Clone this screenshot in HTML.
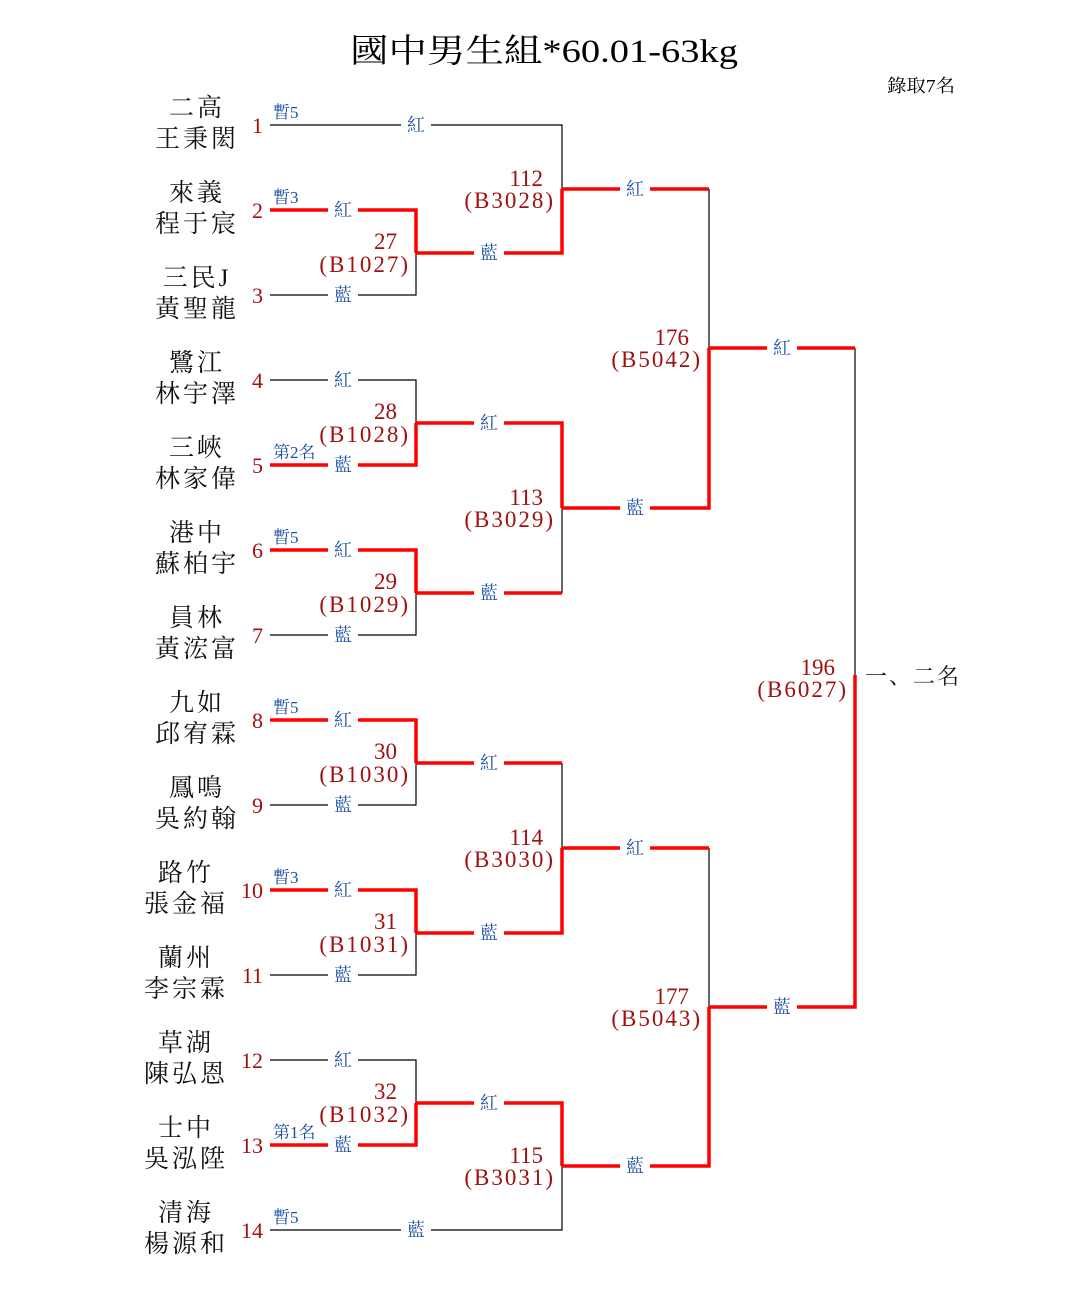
<!DOCTYPE html>
<html><head><meta charset="utf-8"><style>
html,body{margin:0;padding:0;background:#fff;}
svg{display:block;}
text{font-family:"Liberation Serif","Noto Serif CJK SC",serif;}
.nm{font-size:25px;fill:#111;text-anchor:middle;letter-spacing:3px;}
.pn{font-size:22px;fill:#a01010;text-anchor:end;}
.lb{font-size:18px;fill:#1a4fa0;text-anchor:middle;}
.tg{font-size:17px;fill:#1a4fa0;}
.mn{font-size:23px;fill:#a01010;text-anchor:end;}
.mb{font-size:23px;fill:#a01010;text-anchor:end;letter-spacing:2px;}
.k{stroke:#000;stroke-width:1.2;fill:none;}
.r{stroke:#f00;stroke-width:3.5;fill:none;}
</style></head><body>
<svg width="1085" height="1315" viewBox="0 0 1085 1315" xmlns="http://www.w3.org/2000/svg">
<text x="350" y="62" font-size="33" textLength="388" lengthAdjust="spacingAndGlyphs" fill="#000">國中男生組*60.01-63kg</text>
<text x="887" y="92" font-size="18" fill="#000" textLength="68" lengthAdjust="spacingAndGlyphs">錄取7名</text>

<g class="nm">
<text x="197" y="116">二高</text><text x="197" y="147">王秉閎</text>
<text x="197" y="201">來義</text><text x="197" y="232">程于宸</text>
<text x="197" y="286">三民J</text><text x="197" y="317">黃聖龍</text>
<text x="197" y="371">鷺江</text><text x="197" y="402">林宇澤</text>
<text x="197" y="456">三峽</text><text x="197" y="487">林家偉</text>
<text x="197" y="541">港中</text><text x="197" y="572">蘇柏宇</text>
<text x="197" y="626">員林</text><text x="197" y="657">黃浤富</text>
<text x="197" y="711">九如</text><text x="197" y="742">邱宥霖</text>
<text x="197" y="796">鳳鳴</text><text x="197" y="827">吳約翰</text>
<text x="186" y="881">路竹</text><text x="186" y="912">張金福</text>
<text x="186" y="966">蘭州</text><text x="186" y="997">李宗霖</text>
<text x="186" y="1051">草湖</text><text x="186" y="1082">陳弘恩</text>
<text x="186" y="1136">士中</text><text x="186" y="1167">吳泓陞</text>
<text x="186" y="1221">清海</text><text x="186" y="1252">楊源和</text>
</g>
<g class="pn">
<text x="263" y="133">1</text><text x="263" y="218">2</text><text x="263" y="303">3</text>
<text x="263" y="388">4</text><text x="263" y="473">5</text><text x="263" y="558">6</text>
<text x="263" y="643">7</text><text x="263" y="728">8</text><text x="263" y="813">9</text>
<text x="263" y="898">10</text><text x="263" y="983">11</text><text x="263" y="1068">12</text>
<text x="263" y="1153">13</text><text x="263" y="1238">14</text>
</g>

<path class="k" d="M270 125H562V189"/>
<path class="r" d="M270 210H416V253"/>
<path class="k" d="M270 295H416V253"/>
<path class="k" d="M270 380H416V423"/>
<path class="r" d="M270 465H416V423"/>
<path class="r" d="M270 550H416V593"/>
<path class="k" d="M270 635H416V593"/>
<path class="r" d="M270 720H416V763"/>
<path class="k" d="M270 805H416V763"/>
<path class="r" d="M270 890H416V933"/>
<path class="k" d="M270 975H416V933"/>
<path class="k" d="M270 1060H416V1103"/>
<path class="r" d="M270 1145H416V1103"/>
<path class="k" d="M270 1230H562V1166"/>

<path class="k" d="M562 508V593"/>
<path class="k" d="M562 763V848"/>
<path class="r" d="M416 253H562V189"/>
<path class="r" d="M416 423H562V508"/>
<path class="r" d="M416 593H562"/>
<path class="r" d="M416 763H562"/>
<path class="r" d="M416 933H562V848"/>
<path class="r" d="M416 1103H562V1166"/>

<path class="k" d="M709 189V348"/>
<path class="k" d="M709 848V1007"/>
<path class="r" d="M562 189H709"/>
<path class="r" d="M562 508H709V348"/>
<path class="r" d="M562 848H709"/>
<path class="r" d="M562 1166H709V1007"/>

<path class="k" d="M855 348V675"/>
<path class="r" d="M709 348H855"/>
<path class="r" d="M709 1007H855V675"/>

<g fill="#fff">
<rect x="401" y="120" width="30" height="10"/>
<rect x="328" y="205" width="30" height="10"/><rect x="328" y="290" width="30" height="10"/>
<rect x="328" y="375" width="30" height="10"/><rect x="328" y="460" width="30" height="10"/>
<rect x="328" y="545" width="30" height="10"/><rect x="328" y="630" width="30" height="10"/>
<rect x="328" y="715" width="30" height="10"/><rect x="328" y="800" width="30" height="10"/>
<rect x="328" y="885" width="30" height="10"/><rect x="328" y="970" width="30" height="10"/>
<rect x="328" y="1055" width="30" height="10"/><rect x="328" y="1140" width="30" height="10"/>
<rect x="401" y="1225" width="30" height="10"/>
<rect x="474" y="248" width="30" height="10"/><rect x="474" y="418" width="30" height="10"/>
<rect x="474" y="588" width="30" height="10"/><rect x="474" y="758" width="30" height="10"/>
<rect x="474" y="928" width="30" height="10"/><rect x="474" y="1098" width="30" height="10"/>
<rect x="620" y="184" width="30" height="10"/><rect x="620" y="503" width="30" height="10"/>
<rect x="620" y="843" width="30" height="10"/><rect x="620" y="1161" width="30" height="10"/>
<rect x="767" y="343" width="30" height="10"/><rect x="767" y="1002" width="30" height="10"/>
</g>
<g class="lb">
<text x="416" y="131">紅</text>
<text x="343" y="216">紅</text><text x="343" y="301">藍</text>
<text x="343" y="386">紅</text><text x="343" y="471">藍</text>
<text x="343" y="556">紅</text><text x="343" y="641">藍</text>
<text x="343" y="726">紅</text><text x="343" y="811">藍</text>
<text x="343" y="896">紅</text><text x="343" y="981">藍</text>
<text x="343" y="1066">紅</text><text x="343" y="1151">藍</text>
<text x="416" y="1236">藍</text>
<text x="489" y="259">藍</text><text x="489" y="429">紅</text>
<text x="489" y="599">藍</text><text x="489" y="769">紅</text>
<text x="489" y="939">藍</text><text x="489" y="1109">紅</text>
<text x="635" y="195">紅</text><text x="635" y="514">藍</text>
<text x="635" y="854">紅</text><text x="635" y="1172">藍</text>
<text x="782" y="354">紅</text><text x="782" y="1013">藍</text>
</g>
<g class="tg">
<text x="273" y="118">暫5</text><text x="273" y="203">暫3</text>
<text x="273" y="458">第2名</text><text x="273" y="543">暫5</text>
<text x="273" y="713">暫5</text><text x="273" y="883">暫3</text>
<text x="273" y="1138">第1名</text><text x="273" y="1223">暫5</text>
</g>

<g class="mn">
<text x="397" y="249">27</text>
<text x="397" y="419">28</text>
<text x="397" y="589">29</text>
<text x="397" y="759">30</text>
<text x="397" y="929">31</text>
<text x="397" y="1099">32</text>
<text x="543" y="186">112</text>
<text x="543" y="505">113</text>
<text x="543" y="845">114</text>
<text x="543" y="1163">115</text>
<text x="689" y="345">176</text>
<text x="689" y="1004">177</text>
<text x="835" y="675">196</text>
</g>
<g class="mb">
<text x="410" y="272">(B1027)</text>
<text x="410" y="442">(B1028)</text>
<text x="410" y="612">(B1029)</text>
<text x="410" y="782">(B1030)</text>
<text x="410" y="952">(B1031)</text>
<text x="410" y="1122">(B1032)</text>
<text x="555" y="208">(B3028)</text>
<text x="555" y="527">(B3029)</text>
<text x="555" y="867">(B3030)</text>
<text x="555" y="1185">(B3031)</text>
<text x="702" y="367">(B5042)</text>
<text x="702" y="1026">(B5043)</text>
<text x="848" y="697">(B6027)</text>
</g>
<text x="865" y="684" font-size="22" fill="#111" letter-spacing="2">一、二名</text>
</svg>
</body></html>
